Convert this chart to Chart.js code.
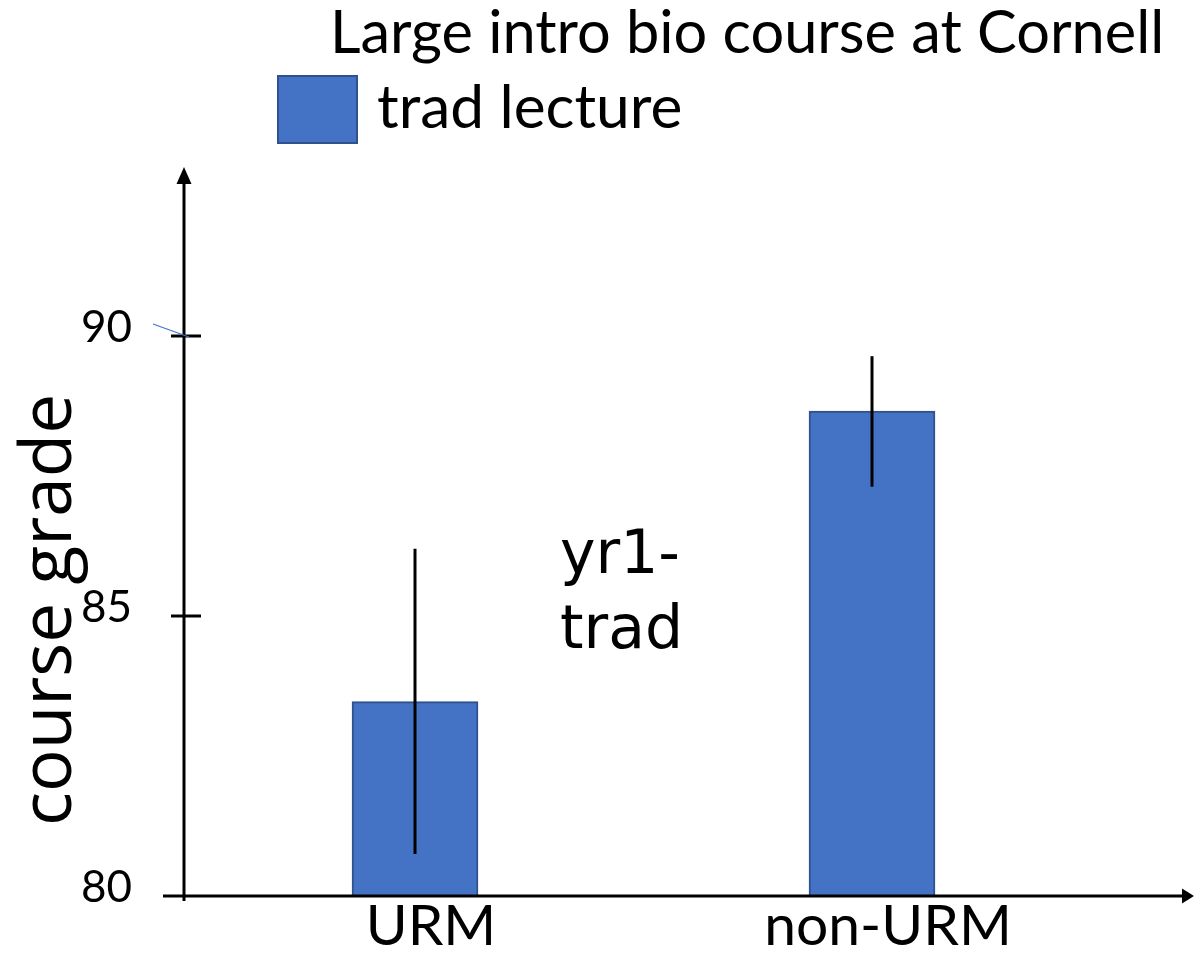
<!DOCTYPE html>
<html><head><meta charset="utf-8">
<script src="https://cdn.jsdelivr.net/npm/chart.js@4.4.1/dist/chart.umd.min.js"></script>
<style>html,body{margin:0;padding:0;background:#fff;overflow:hidden}#wrap{width:1194px;height:954px}</style>
</head><body><div id="wrap"><canvas id="c" width="1194" height="954"></canvas></div>
<script>
// ---- data ----
const categories = ['URM', 'non-URM'];
const means = [83.47, 88.66];
const errHigh = [86.20, 89.64];
const errLow = [80.75, 87.31];
const yTicks = [80, 85, 90];
const titleText = 'Large intro bio course at Cornell';
const seriesName = 'trad lecture';
const yTitle = 'course grade';
const noteLines = ['yr1-', 'trad'];

const BAR = '#4472C4', BAR_EDGE = '#2F528F';

function inkWidth(ctx, text) {
  const m = ctx.measureText(text);
  return m.actualBoundingBoxLeft + m.actualBoundingBoxRight;
}
function fitSize(ctx, text, family, width) {
  ctx.font = '100px ' + family;
  return 100 * width / inkWidth(ctx, text);
}
function drawInk(ctx, text, left, baseline) {
  const m = ctx.measureText(text);
  ctx.fillText(text, left + m.actualBoundingBoxLeft, baseline);
}

const decor = {
  id: 'decor',
  afterDatasetsDraw(chart) {
    const ctx = chart.ctx, xs = chart.scales.x, ys = chart.scales.y;
    ctx.save();
    // error bars
    ctx.strokeStyle = '#000'; ctx.lineWidth = 3; ctx.lineCap = 'butt';
    categories.forEach((c, i) => {
      const px = xs.getPixelForValue(i);
      ctx.beginPath();
      ctx.moveTo(px, ys.getPixelForValue(errHigh[i]));
      ctx.lineTo(px, ys.getPixelForValue(errLow[i]));
      ctx.stroke();
    });
    const a = chart.chartArea;
    const x0 = a.left, y0 = a.bottom;
    // x axis line + arrow
    ctx.lineWidth = 3;
    ctx.beginPath(); ctx.moveTo(163, y0); ctx.lineTo(a.right - 10, y0); ctx.stroke();
    ctx.fillStyle = '#000';
    ctx.beginPath(); ctx.moveTo(a.right, y0); ctx.lineTo(a.right - 12, y0 - 7.5); ctx.lineTo(a.right - 12, y0 + 7.5); ctx.closePath(); ctx.fill();
    // y axis line + arrow
    ctx.beginPath(); ctx.moveTo(x0, y0 + 5); ctx.lineTo(x0, a.top + 12); ctx.stroke();
    ctx.beginPath(); ctx.moveTo(x0, a.top - 1); ctx.lineTo(x0 - 7.5, a.top + 16); ctx.lineTo(x0 + 7.5, a.top + 16); ctx.closePath(); ctx.fill();
    // y tick marks crossing the axis
    yTicks.forEach(v => {
      if (v === ys.min) return;
      const py = ys.getPixelForValue(v);
      ctx.beginPath(); ctx.moveTo(x0 - 13, py); ctx.lineTo(x0 + 17, py); ctx.stroke();
    });
    // thin blue stray stroke near 90 tick
    const p90 = ys.getPixelForValue(90);
    ctx.strokeStyle = BAR; ctx.lineWidth = 1.2;
    ctx.beginPath(); ctx.moveTo(153, p90 - 12); ctx.lineTo(189, p90 + 1); ctx.stroke();

    // title
    ctx.fillStyle = '#000'; ctx.textAlign = 'left'; ctx.textBaseline = 'alphabetic';
    let s = fitSize(ctx, titleText, 'Lato', 825);
    ctx.font = s + 'px Lato';
    drawInk(ctx, titleText, 335, 53);
    // legend
    ctx.fillStyle = BAR; ctx.fillRect(278, 76, 79, 67);
    ctx.strokeStyle = BAR_EDGE; ctx.lineWidth = 2; ctx.strokeRect(278, 76, 79, 67);
    ctx.fillStyle = '#000';
    s = fitSize(ctx, seriesName, 'Lato', 302);
    ctx.font = s + 'px Lato';
    drawInk(ctx, seriesName, 378, 128);
    // note
    ctx.font = '60px "DejaVu Sans"';
    drawInk(ctx, noteLines[0], 561, 573);
    drawInk(ctx, noteLines[1], 561, 648);
    // y title rotated
    s = fitSize(ctx, yTitle, '"Open Sans"', 425);
    ctx.font = s + 'px "Open Sans"';
    ctx.translate(71, 610);
    ctx.rotate(-Math.PI / 2);
    ctx.textAlign = 'center';
    ctx.fillText(yTitle, 0, 0);
    ctx.restore();
  }
};

new Chart(document.getElementById('c'), {
  type: 'bar',
  data: {
    datasets: [{
      label: seriesName,
      data: categories.map((c, i) => ({ x: i, y: means[i] })),
      backgroundColor: BAR,
      borderColor: BAR_EDGE,
      borderWidth: 2,
      barThickness: 126
    }]
  },
  options: {
    responsive: false,
    animation: false,
    events: [],
    layout: { padding: { top: 168, left: 0, right: 0, bottom: 0 } },
    plugins: { legend: { display: false }, title: { display: false }, tooltip: { enabled: false } },
    scales: {
      x: {
        type: 'linear', min: -0.5055, max: 1.7046, offset: false,
        afterBuildTicks: s => { s.ticks = categories.map((c, i) => ({ value: i })); },
        afterFit: s => { s.height = 58; s.paddingLeft = 0; s.paddingRight = 0; },
        grid: { display: false, drawTicks: false, offset: false }, border: { display: false },
        ticks: { callback: v => categories[v], font: { family: 'Lato', size: 57 }, color: '#000', padding: -4, labelOffset: 16, autoSkip: false, maxRotation: 0 }
      },
      y: {
        min: 80, max: 93,
        afterBuildTicks: s => { s.ticks = yTicks.map(v => ({ value: v })); },
        afterFit: s => { s.width = 184; s.paddingTop = 0; s.paddingBottom = 0; },
        grid: { display: false, drawTicks: false }, border: { display: false },
        ticks: { font: { family: 'Lato', size: 44 }, color: '#000', padding: 52, labelOffset: -8 }
      }
    }
  },
  plugins: [decor]
});
</script></body></html>
